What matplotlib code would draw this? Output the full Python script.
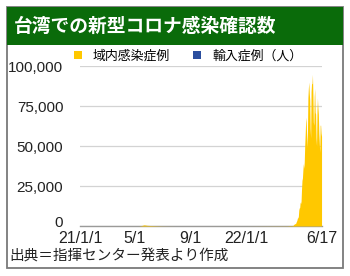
import numpy as np
import pandas as pd
import matplotlib
matplotlib.use("Agg")
import matplotlib.pyplot as plt
from matplotlib.patches import Rectangle, Patch
from matplotlib.transforms import ScaledTranslation

plt.rcParams['font.family'] = ['Noto Sans CJK JP', 'DejaVu Sans']

title = "台湾での新型コロナ感染確認数"
source = "出典＝指揮センター発表より作成"
legend_labels = ["域内感染症例", "輸入症例（人）"]

# 2021 wave (tiny at this scale)
wave_2021_dates = ["2021-01-01", "2021-05-10", "2021-05-15", "2021-05-22", "2021-05-29",
                   "2021-06-05", "2021-06-15", "2021-06-30", "2021-07-15", "2021-08-01",
                   "2022-01-01", "2022-03-31"]
wave_2021_cases = [0, 10, 180, 720, 400, 300, 200, 70, 30, 5, 10, 100]

# daily domestic cases from 2022-04-01
daily_start = "2022-04-01"
daily_cases = [
    110, 90, 130, 170, 190, 200, 230, 260, 230, 185,
    136, 243, 414, 381, 519, 1020, 1200, 1300, 1600, 1500,
    2400, 3000, 3800, 5000, 5100, 6000, 10000, 11300, 11500, 15000,
    14000, 15500, 23000, 28500, 30000, 35000, 39000, 36000, 40000, 50000,
    57000, 65000, 68000, 59000, 49000, 58000, 80000, 86000, 90000, 83000,
    79000, 61000, 55000, 84000, 89000, 89000, 94800, 82000, 65000, 63000,
    81000, 86000, 71000, 70000, 55000, 50000, 72000, 80000, 74000, 70000,
    58000, 52000, 46000, 63000, 63000, 58000, 56000,
]

tick_dates = ["2021-01-01", "2021-05-01", "2021-09-01", "2022-01-01", "2022-06-17"]
tick_labels = ["21/1/1", "5/1", "9/1", "22/1/1", "6/17"]
y_ticks = [0, 25000, 50000, 75000, 100000]

yellow = "#FFC800"
blue = "#2B4E9E"
green = "#0A6B0A"

W, H = 350, 276
fig = plt.figure(figsize=(W / 100, H / 100), dpi=100)
fig.patch.set_facecolor("white")

def px(x0, y0, x1, y1):
    return [x0 / W, 1 - y1 / H, (x1 - x0) / W, (y1 - y0) / H]

# frame and header
fig.patches.append(Rectangle((7 / W, 1 - 268 / H), 336 / W, 261 / H, transform=fig.transFigure,
                             facecolor="none", edgecolor="#7a7a7a", lw=1.3, zorder=-2))
fig.patches.append(Rectangle((7 / W, 1 - 45 / H), 336 / W, 38 / H, transform=fig.transFigure,
                             facecolor=green, edgecolor="none", zorder=-1))
fig.text(14 / W, 1 - 26 / H, title, color="white", fontsize=13.5, fontweight="bold",
         va="center", ha="left")
fig.text(9 / W, 1 - 257 / H, source, color="#222222", fontsize=10.5, va="center", ha="left")

ax = fig.add_axes(px(80, 66, 322, 226))
ax.set_zorder(2)
ax.set_facecolor("none")

d1 = pd.to_datetime(wave_2021_dates)
d2 = pd.date_range(daily_start, periods=len(daily_cases), freq="D")
dates = d1.append(d2)
cases = np.array(wave_2021_cases + daily_cases)

ax.fill_between(dates, 0, cases, color=yellow, lw=0, zorder=3)

ax.set_xlim(pd.Timestamp("2021-01-01"), pd.Timestamp("2022-06-17"))
ax.set_ylim(0, 100000)
ax.set_xticks(pd.to_datetime(tick_dates))
ax.set_xticklabels(tick_labels, family="Liberation Sans")
ax.set_yticks(y_ticks)
ax.set_yticklabels([f"{v:,}" for v in y_ticks], family="Liberation Sans")
ax.tick_params(axis="y", length=0, labelsize=11, colors="#222222", pad=12)
ax.tick_params(axis="x", length=0, labelsize=11.5, colors="#222222", pad=3.6)

# lift the "0" label a little so it sits above the first date label
zero_lbl = ax.get_yticklabels()[0]
zero_lbl.set_transform(zero_lbl.get_transform() + ScaledTranslation(0, 3 / 72, fig.dpi_scale_trans))

ax.grid(axis="y", color="#d3d3d3", lw=0.9, zorder=1)
for s in ["left", "right", "top"]:
    ax.spines[s].set_visible(False)
ax.spines["bottom"].set_color("#9a9a9a")
ax.spines["bottom"].set_linewidth(1.0)

handles = [Patch(facecolor=yellow, edgecolor="none"), Patch(facecolor=blue, edgecolor="none")]
leg = fig.legend(handles, legend_labels, loc="center left", bbox_to_anchor=(74 / W, 1 - 56 / H),
                 ncol=2, frameon=False, fontsize=9.3, handlelength=0.62, handleheight=0.62,
                 handletextpad=0.85, columnspacing=1.8, borderaxespad=0, borderpad=0)
leg.set_zorder(3)

fig.savefig("out.png", dpi=100)
